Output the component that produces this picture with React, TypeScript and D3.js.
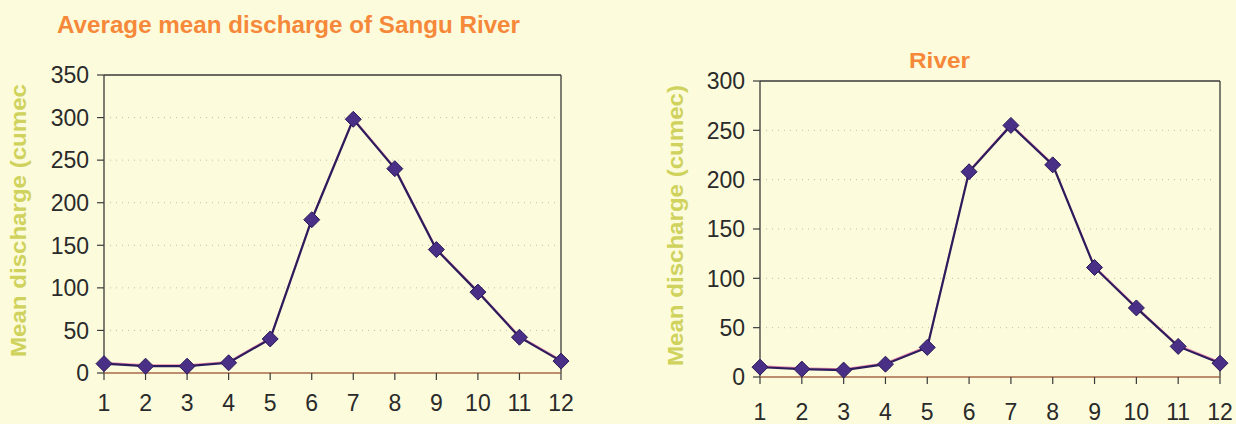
import React from "react";
import * as d3 from "d3";

// Monthly mean discharge (cumec), months 1–12
const months = [1, 2, 3, 4, 5, 6, 7, 8, 9, 10, 11, 12];
const sanguDischarge = [11, 8, 8, 12, 40, 180, 298, 240, 145, 95, 42, 14];
const riverDischarge = [10, 8, 7, 13, 30, 208, 255, 215, 111, 70, 31, 14];
const sanguTicks = [0, 50, 100, 150, 200, 250, 300, 350];
const riverTicks = [0, 50, 100, 150, 200, 250, 300];

const BG = "#fcfcdc";
const TITLE = "#f6883a";
const AXIS_LABEL = "#cfd25c";
const TEXT = "#2a2a2a";
const LINE = "#2c1c5c";
const MARKER = "#4a2f86";
const FONT = "Liberation Sans, Arial, sans-serif";

type PanelProps = {
  values: number[];
  ticks: number[];
  yMax: number;
  left: number;
  right: number;
  top: number;
  bottom: number;
  xLabelY: number;
  yLabel: string;
  yLabelX: number;
  yLabelStart: number;
  yLabelLength: number;
};

function Panel(p: PanelProps) {
  const x = d3.scalePoint<number>().domain(months).range([p.left, p.right]);
  const y = d3.scaleLinear().domain([0, p.yMax]).range([p.bottom, p.top]);
  const line = d3
    .line<number>()
    .x((_, i) => x(months[i]) as number)
    .y((v) => y(v));
  const d = line(p.values) || "";
  const dm = 8;
  return (
    <g>
      {/* dotted horizontal gridlines */}
      {p.ticks
        .filter((t) => t > 0 && t < p.yMax)
        .map((t) => (
          <line
            key={"g" + t}
            x1={p.left + 6}
            x2={p.right - 6}
            y1={y(t)}
            y2={y(t)}
            stroke="#bdbdae"
            strokeWidth={1}
            strokeDasharray="1 5"
          />
        ))}
      {/* frame: top, right, left */}
      <line x1={p.left} x2={p.right} y1={p.top} y2={p.top} stroke="#3a3a3a" strokeWidth={1.3} />
      <line x1={p.right} x2={p.right} y1={p.top} y2={p.bottom} stroke="#3a3a3a" strokeWidth={1.3} />
      <line x1={p.left} x2={p.left} y1={p.top} y2={p.bottom} stroke="#3a3a3a" strokeWidth={1.3} />
      {/* x axis baseline */}
      <line x1={p.left} x2={p.right} y1={p.bottom} y2={p.bottom} stroke="#a86a4a" strokeWidth={1.5} />
      {/* y ticks and labels */}
      {p.ticks.map((t) => (
        <g key={"y" + t}>
          <line x1={p.left - 7} x2={p.left} y1={y(t)} y2={y(t)} stroke="#3a3a3a" strokeWidth={1.2} />
          <text
            x={p.left - 15}
            y={y(t)}
            dy="0.36em"
            textAnchor="end"
            fontSize={23}
            fill={TEXT}
            fontFamily={FONT}
          >
            {t}
          </text>
        </g>
      ))}
      {/* x ticks and labels */}
      {months.map((m) => (
        <g key={"x" + m}>
          <line
            x1={x(m)}
            x2={x(m)}
            y1={p.bottom}
            y2={p.bottom + 7}
            stroke="#3a3a3a"
            strokeWidth={1.2}
          />
          <text
            x={x(m)}
            y={p.xLabelY}
            textAnchor="middle"
            fontSize={23}
            fill={TEXT}
            fontFamily={FONT}
          >
            {m}
          </text>
        </g>
      ))}
      {/* series line with faint fringe */}
      <path d={d} fill="none" stroke="#e0569a" strokeWidth={1.4} transform="translate(0,-1.2)" opacity={0.7} />
      <path d={d} fill="none" stroke={LINE} strokeWidth={2.2} />
      {p.values.map((v, i) => {
        const cx = x(months[i]) as number;
        const cy = y(v);
        return (
          <path
            key={"m" + i}
            d={`M${cx},${cy - dm}L${cx + dm},${cy}L${cx},${cy + dm}L${cx - dm},${cy}Z`}
            fill={MARKER}
            stroke="#2a1a58"
            strokeWidth={1}
          />
        );
      })}
      {/* y axis title */}
      <text
        transform={`translate(${p.yLabelX},${p.yLabelStart}) rotate(-90)`}
        fontSize={22}
        fontWeight="bold"
        fill={AXIS_LABEL}
        fontFamily={FONT}
        textLength={p.yLabelLength}
        lengthAdjust="spacingAndGlyphs"
      >
        {p.yLabel}
      </text>
    </g>
  );
}

export default function App() {
  return (
    <svg
      width={1236}
      height={424}
      style={{ position: "absolute", left: 0, top: 0, background: BG }}
    >
      <rect x={0} y={0} width={1236} height={424} fill={BG} />
      <text
        x={57}
        y={33}
        fontSize={23}
        fontWeight="bold"
        fill={TITLE}
        fontFamily={FONT}
        textLength={463}
        lengthAdjust="spacingAndGlyphs"
      >
        Average mean discharge of Sangu River
      </text>
      <text
        x={909}
        y={68}
        fontSize={22}
        fontWeight="bold"
        fill={TITLE}
        fontFamily={FONT}
        textLength={61}
        lengthAdjust="spacingAndGlyphs"
      >
        River
      </text>
      <Panel
        values={sanguDischarge}
        ticks={sanguTicks}
        yMax={350}
        left={104}
        right={561}
        top={75}
        bottom={373}
        xLabelY={411}
        yLabel="Mean discharge (cumec"
        yLabelX={26}
        yLabelStart={357}
        yLabelLength={273}
      />
      <Panel
        values={riverDischarge}
        ticks={riverTicks}
        yMax={300}
        left={760}
        right={1220}
        top={81}
        bottom={377}
        xLabelY={420}
        yLabel="Mean discharge (cumec)"
        yLabelX={683}
        yLabelStart={366}
        yLabelLength={281}
      />
    </svg>
  );
}
